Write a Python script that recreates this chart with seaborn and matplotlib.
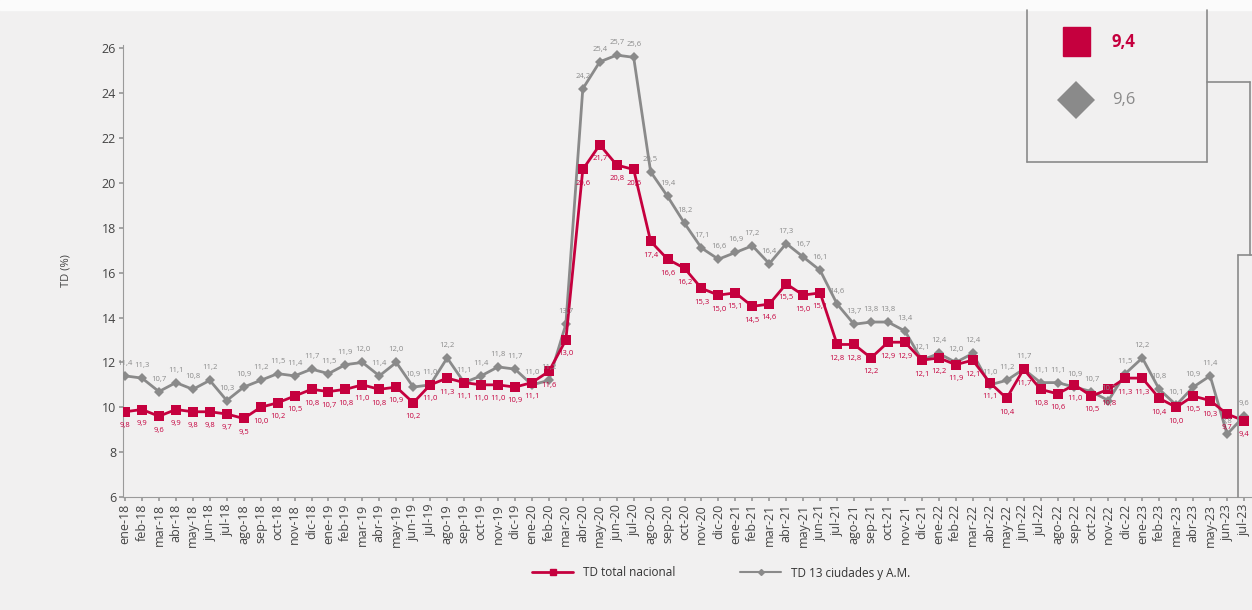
import matplotlib
matplotlib.use("Agg")
import matplotlib.pyplot as plt
import seaborn as sns
import numpy as np
import pandas as pd
from matplotlib.lines import Line2D
from matplotlib.patches import Rectangle

# ---------------- data ----------------
months = ["ene", "feb", "mar", "abr", "may", "jun", "jul", "ago", "sep", "oct", "nov", "dic"]
years = ["18", "19", "20", "21", "22", "23"]
categories = [f"{m}-{y}" for y in years for m in months][:67]

td_nacional = [9.8, 9.9, 9.6, 9.9, 9.8, 9.8, 9.7, 9.5, 10.0, 10.2, 10.5, 10.8,
               10.7, 10.8, 11.0, 10.8, 10.9, 10.2, 11.0, 11.3, 11.1, 11.0, 11.0, 10.9,
               11.1, 11.6, 13.0, 20.6, 21.7, 20.8, 20.6, 17.4, 16.6, 16.2, 15.3, 15.0,
               15.1, 14.5, 14.6, 15.5, 15.0, 15.1, 12.8, 12.8, 12.2, 12.9, 12.9, 12.1,
               12.2, 11.9, 12.1, 11.1, 10.4, 11.7, 10.8, 10.6, 11.0, 10.5, 10.8, 11.3,
               11.3, 10.4, 10.0, 10.5, 10.3, 9.7, 9.4]

td_13ciudades = [11.4, 11.3, 10.7, 11.1, 10.8, 11.2, 10.3, 10.9, 11.2, 11.5, 11.4, 11.7,
                 11.5, 11.9, 12.0, 11.4, 12.0, 10.9, 11.0, 12.2, 11.1, 11.4, 11.8, 11.7,
                 11.0, 11.2, 13.7, 24.2, 25.4, 25.7, 25.6, 20.5, 19.4, 18.2, 17.1, 16.6,
                 16.9, 17.2, 16.4, 17.3, 16.7, 16.1, 14.6, 13.7, 13.8, 13.8, 13.4, 12.1,
                 12.4, 12.0, 12.4, 11.0, 11.2, 11.7, 11.1, 11.1, 10.9, 10.7, 10.3, 11.5,
                 12.2, 10.8, 10.1, 10.9, 11.4, 8.8, 9.6]

y_ticks = [6, 8, 10, 12, 14, 16, 18, 20, 22, 24, 26]
series_names = ["TD total nacional", "TD 13 ciudades y A.M."]
box_values = ["9,4", "9,6"]

RED = "#c5003e"
GRAY = "#8a8a8a"
BG = "#f1f0f0"

df = pd.DataFrame({"idx": np.arange(len(categories)),
                   "nac": td_nacional, "ciu": td_13ciudades})

sns.set_theme(style="white")
plt.rcParams["font.family"] = ["Open Sans", "DejaVu Sans"]

W, H = 1252, 610
fig = plt.figure(figsize=(W / 100, H / 100), dpi=100, facecolor=BG)
ax = fig.add_axes([123 / W, 113 / H, (1252 - 123) / W, (497 - 45) / H])
ax.set_facecolor(BG)

sns.lineplot(data=df, x="idx", y="ciu", ax=ax, color=GRAY, lw=2.0,
             marker="D", markersize=5.5, markeredgewidth=0, zorder=3)
sns.lineplot(data=df, x="idx", y="nac", ax=ax, color=RED, lw=2.0,
             marker="s", markersize=6.5, markeredgewidth=0, zorder=4)

def fmt(v):
    return f"{v:.1f}".replace(".", ",")

for i, (a, b) in enumerate(zip(td_nacional, td_13ciudades)):
    ax.annotate(fmt(a), (i, a), xytext=(0, -10), textcoords="offset points",
                ha="center", va="center", fontsize=5.5, color=RED, zorder=6)
    ax.annotate(fmt(b), (i, b), xytext=(0, 9), textcoords="offset points",
                ha="center", va="center", fontsize=5.5, color=GRAY, zorder=6)

ax.set_xlim(-0.12, 66.47)
ax.set_ylim(6, 26.15)
ax.set_yticks(y_ticks)
ax.set_yticklabels([str(t) for t in y_ticks], fontsize=9, color="#444444")
ax.set_xticks(range(len(categories)))
ax.set_xticklabels(categories, rotation=90, fontsize=9, color="#444444")
ax.set_xlabel("")
ax.set_ylabel("TD (%)", fontsize=8, color="#444444", labelpad=22)
for s in ["top", "right"]:
    ax.spines[s].set_visible(False)
for s in ["left", "bottom"]:
    ax.spines[s].set_color("#9a9a9a")
    ax.spines[s].set_linewidth(0.8)
ax.tick_params(axis="both", which="both", length=3, color="#9a9a9a", direction="out",
               left=True, bottom=True, pad=2)

handles = [Line2D([0], [0], color=RED, lw=2, marker="s", markersize=5),
           Line2D([0], [0], color=GRAY, lw=1.5, marker="D", markersize=3)]
fig.legend(handles, series_names, loc="center", bbox_to_anchor=(0.576, 1 - 573 / H),
           ncol=2, frameon=False, fontsize=8.5, columnspacing=5.5, handlelength=3.5,
           labelcolor="#333333")

# inset box (top right)
def fx(px):
    return px / W

def fy(py):
    return 1 - py / H

def seg(x0, y0, x1, y1):
    fig.add_artist(Line2D([fx(x0), fx(x1)], [fy(y0), fy(y1)], transform=fig.transFigure,
                          color="#8a8a8a", lw=1.2))

fig.add_artist(Rectangle((0, fy(10)), 1, 10 / H, transform=fig.transFigure,
                         color="#fbfbfb", zorder=0))
seg(1027, 10, 1027, 162)
seg(1027, 162, 1207, 162)
seg(1207, 162, 1207, 10)
seg(1207, 82, 1250, 82)
seg(1250, 82, 1250, 255)
seg(1238, 255, 1252, 255)
seg(1238, 255, 1238, 497)

fig.add_artist(Rectangle((fx(1063), fy(56)), fx(1090) - fx(1063), fy(27) - fy(56),
                         transform=fig.transFigure, color=RED))
fig.text(fx(1112), fy(42), box_values[0], color=RED, fontsize=12, fontweight="bold",
         va="center", ha="left")
fig.add_artist(Line2D([fx(1076)], [fy(100)], transform=fig.transFigure, marker="D",
                      markersize=19, color=GRAY, markeredgewidth=0, linestyle="none"))
fig.text(fx(1112), fy(100), box_values[1], color=GRAY, fontsize=12,
         va="center", ha="left")

fig.savefig("out.png", dpi=100, facecolor=BG)
